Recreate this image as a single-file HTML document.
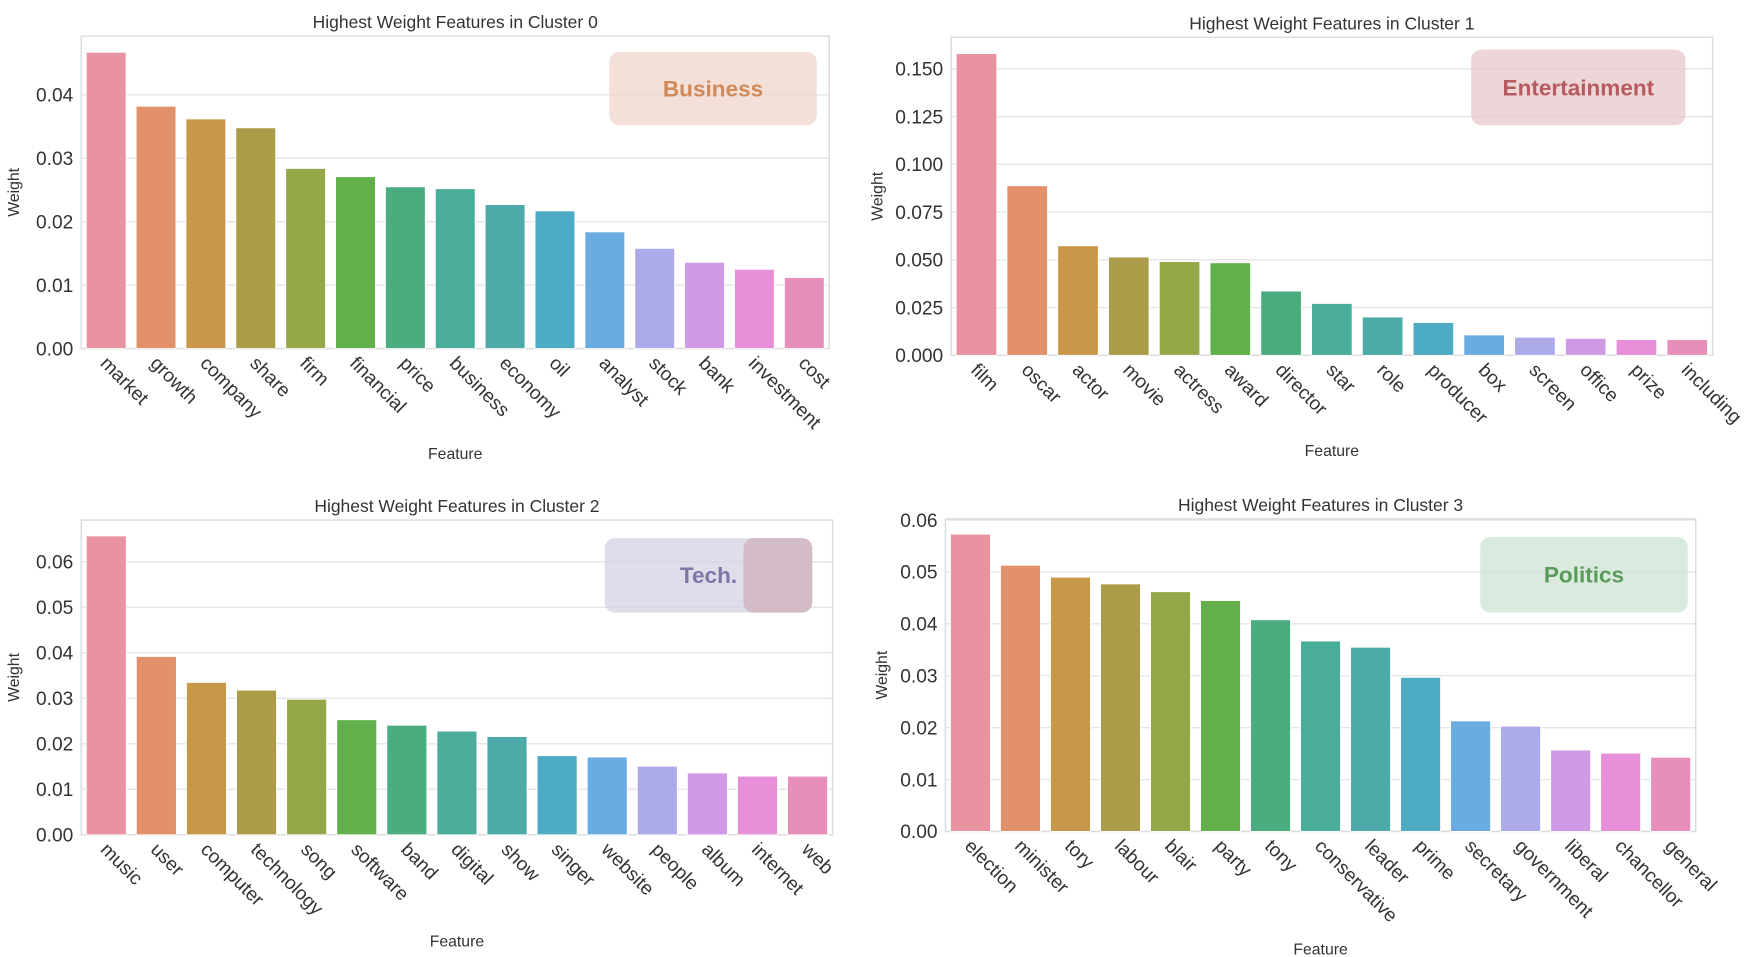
<!DOCTYPE html>
<html><head><meta charset="utf-8"><style>
html,body{margin:0;padding:0;background:#fff;}
svg{display:block;font-family:"Liberation Sans",Arial,sans-serif;}
</style></head><body>
<svg id="root" width="1760" height="957" viewBox="0 0 1560 848.3" preserveAspectRatio="none" xmlns="http://www.w3.org/2000/svg"></svg>
<script>
const cats0 = ["market","growth","company","share","firm","financial","price","business","economy","oil","analyst","stock","bank","investment","cost"];
const vals0 = [0.0467,0.0382,0.0362,0.0348,0.0284,0.0271,0.0255,0.0252,0.0227,0.0217,0.0184,0.0158,0.0136,0.0125,0.0112];
const ticks0 = [0,0.01,0.02,0.03,0.04];
const tickLabels0 = ["0.00","0.01","0.02","0.03","0.04"];

const cats1 = ["film","oscar","actor","movie","actress","award","director","star","role","producer","box","screen","office","prize","including"];
const vals1 = [0.158,0.0888,0.0574,0.0515,0.0491,0.0485,0.0337,0.0272,0.0201,0.0172,0.0107,0.0095,0.0089,0.0083,0.0083];
const ticks1 = [0,0.025,0.05,0.075,0.1,0.125,0.15];
const tickLabels1 = ["0.000","0.025","0.050","0.075","0.100","0.125","0.150"];

const cats2 = ["music","user","computer","technology","song","software","band","digital","show","singer","website","people","album","internet","web"];
const vals2 = [0.0657,0.0392,0.0335,0.0318,0.0298,0.0253,0.0241,0.0228,0.0216,0.0174,0.0171,0.0151,0.0136,0.0129,0.0129];
const ticks2 = [0,0.01,0.02,0.03,0.04,0.05,0.06];
const tickLabels2 = ["0.00","0.01","0.02","0.03","0.04","0.05","0.06"];

const cats3 = ["election","minister","tory","labour","blair","party","tony","conservative","leader","prime","secretary","government","liberal","chancellor","general"];
const vals3 = [0.0573,0.0513,0.0490,0.0477,0.0462,0.0445,0.0408,0.0367,0.0355,0.0297,0.0213,0.0203,0.0157,0.0151,0.0143];
const ticks3 = [0,0.01,0.02,0.03,0.04,0.05,0.06];
const tickLabels3 = ["0.00","0.01","0.02","0.03","0.04","0.05","0.06"];

const palette = ["#e8939f","#e3916b","#c8974a","#aa9c48","#94a84a","#62b04c","#4bac80","#4aad9a","#4caaa8","#4eabc4","#6aabe1","#adaaea","#cf99e6","#e88fda","#e68fbb"];
const NS = "http://www.w3.org/2000/svg";
const root = document.getElementById('root');
function mk(tag, attrs, parent, text){
  const e = document.createElementNS(NS, tag);
  for (const k in attrs) e.setAttribute(k, attrs[k]);
  if (text !== undefined) e.textContent = text;
  parent.appendChild(e); return e;
}
function chart(cfg){
  const g = mk('g', {}, root);
  
  
  const {L,R,T,B,y0px,yRefVal,yRefPx} = cfg;
  const pxPerUnit = (y0px - yRefPx)/yRefVal;
  const y = v => y0px - v*pxPerUnit;
  const slot = (R-L)/cfg.cats.length;
  const x = i => L + slot*i;
  // grid
  cfg.ticks.forEach((t,i)=>{
    const gl = mk('line',{x1:L,x2:R,y1:y(t),y2:y(t),stroke:'#e5e5e5','stroke-width':1.2},g);
    
    
    const tl = mk('text',{x:L-7,y:y(t)+6,'text-anchor':'end','font-size':17,fill:'#333'},g,cfg.tickLabels[i]);
    
    
  });
  const fr = mk('rect',{x:L,y:T,width:R-L,height:B-T,fill:'none',stroke:'#dcdcdc','stroke-width':1.3},g);
  
  
  cfg.vals.forEach((v,i)=>{
    const b = mk('rect',{x:x(i)+slot*0.1,y:y(v),width:slot*0.8,height:y0px-y(v),fill:palette[i],stroke:'#fff','stroke-width':0.8},g);
    
    
    const cx = x(i)+slot*0.5-6, cy = y0px+14;
    const t = mk('text',{x:cx,y:cy,'font-size':17,fill:'#333',transform:`rotate(45 ${cx} ${cy})`},g,cfg.cats[i]);
    
    
  });
  const ti = mk('text',{x:(L+R)/2,y:T-7,'text-anchor':'middle','font-size':15.5,fill:'#333'},g,cfg.title);
  
  
  const xl = mk('text',{x:(L+R)/2,y:cfg.featY,'text-anchor':'middle','font-size':14,fill:'#333'},g,'Feature');
  
  
  const yl = mk('text',{x:cfg.wX,y:(T+B)/2,'text-anchor':'middle','font-size':14,fill:'#333',transform:`rotate(-90 ${cfg.wX} ${(T+B)/2})`},g,'Weight');
  
  
  const bx = cfg.box;
  const br = mk('rect',{x:bx[0],y:bx[1],width:bx[2]-bx[0],height:bx[3]-bx[1],rx:9,fill:bx[4],'fill-opacity':0.75},g);
  
  
  if (cfg.extra){
    const ex = mk('rect',{x:cfg.extra[0],y:bx[1],width:bx[2]-cfg.extra[0],height:bx[3]-bx[1],rx:9,fill:cfg.extra[1],'fill-opacity':0.8},g);
    
    
  }
  const bt = mk('text',{x:cfg.txtX || (bx[0]+bx[2])/2,y:(bx[1]+bx[3])/2+7,'text-anchor':'middle','font-size':20,'font-weight':'bold',fill:bx[5]},g,bx[6]);
  
  
}
chart({name:'cluster-0-chart',cats:cats0,vals:vals0,ticks:ticks0,tickLabels:tickLabels0,title:'Highest Weight Features in Cluster 0',
  L:72,R:735,T:32,B:309,y0px:309,yRefVal:0.04,yRefPx:84,featY:407,wX:17,
  box:[540,46,724,111,'#efd6cb','#d08a5a','Business']});
chart({name:'cluster-1-chart',cats:cats1,vals:vals1,ticks:ticks1,tickLabels:tickLabels1,title:'Highest Weight Features in Cluster 1',
  L:843,R:1518,T:33,B:315,y0px:315,yRefVal:0.15,yRefPx:61,featY:404,wX:782,
  box:[1304,44,1494,111,'#e6c8cb','#b85a60','Entertainment']});
chart({name:'cluster-2-chart',cats:cats2,vals:vals2,ticks:ticks2,tickLabels:tickLabels2,title:'Highest Weight Features in Cluster 2',
  L:72,R:738,T:461,B:740,y0px:740,yRefVal:0.06,yRefPx:498,featY:839,wX:17,
  box:[536,477,720,543,'#d4d2e3','#7e76a8','Tech.'],extra:[659,'#d0b4be'],txtX:628});
chart({name:'cluster-3-chart',cats:cats3,vals:vals3,ticks:ticks3,tickLabels:tickLabels3,title:'Highest Weight Features in Cluster 3',
  L:838,R:1503,T:460,B:737,y0px:737,yRefVal:0.06,yRefPx:461,featY:846,wX:786,
  box:[1312,476,1496,543,'#cfe3d4','#5a9a5a','Politics']});
</script>
</body></html>
